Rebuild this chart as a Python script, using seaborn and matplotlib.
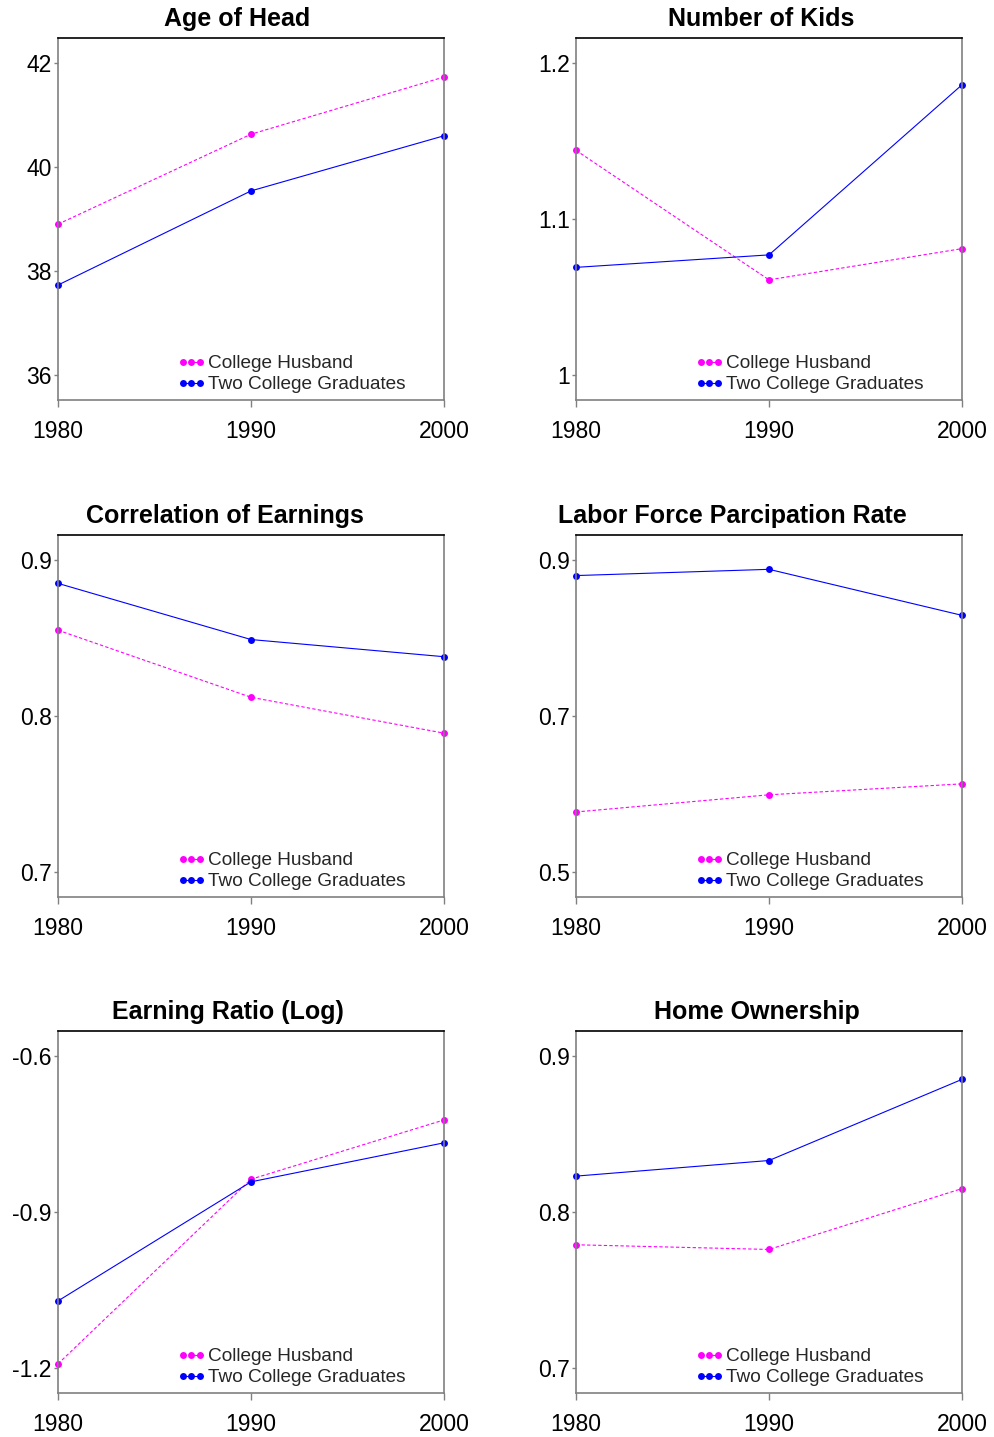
import matplotlib
matplotlib.use("Agg")
import matplotlib.pyplot as plt
import seaborn as sns
import pandas as pd
from matplotlib.ticker import FixedLocator, FixedFormatter

sns.set_theme(style="white")
plt.rcParams["font.family"] = ["Liberation Sans", "DejaVu Sans"]

years = [1980, 1990, 2000]
series_names = ["College Husband", "Two College Graduates"]

age_college_husband = [38.9, 40.63, 41.73]
age_two_grads = [37.73, 39.54, 40.6]
kids_college_husband = [1.144, 1.061, 1.081]
kids_two_grads = [1.069, 1.077, 1.186]
corr_college_husband = [0.855, 0.812, 0.789]
corr_two_grads = [0.885, 0.849, 0.838]
lfp_college_husband = [0.577, 0.599, 0.613]
lfp_two_grads = [0.880, 0.888, 0.829]
earn_college_husband = [-1.192, -0.837, -0.723]
earn_two_grads = [-1.071, -0.842, -0.767]
home_college_husband = [0.779, 0.776, 0.815]
home_two_grads = [0.823, 0.833, 0.885]

titles = ["Age of Head", "Number of Kids", "Correlation of Earnings",
          "Labor Force Parcipation Rate", "Earning Ratio (Log)", "Home Ownership"]
yticks = [[36, 38, 40, 42], [1.0, 1.1, 1.2], [0.7, 0.8, 0.9],
          [0.5, 0.7, 0.9], [-1.2, -0.9, -0.6], [0.7, 0.8, 0.9]]
ylims = [(35.52, 42.48), (0.984, 1.216), (0.684, 0.916),
         (0.468, 0.932), (-1.248, -0.552), (0.684, 0.916)]
panel_values = [
    (age_college_husband, age_two_grads),
    (kids_college_husband, kids_two_grads),
    (corr_college_husband, corr_two_grads),
    (lfp_college_husband, lfp_two_grads),
    (earn_college_husband, earn_two_grads),
    (home_college_husband, home_two_grads),
]

W, H = 995, 1437
fig = plt.figure(figsize=(W / 100, H / 100), dpi=100)
fig.patch.set_facecolor("white")

col_left = [58, 576]
row_top = [38, 535, 1031]
ax_w, ax_h = 386, 362
title_cx = [237, 761, 225, 732, 228, 757]

palette = {"College Husband": "#FF00FF", "Two College Graduates": "#0000FF"}
dashes = {"College Husband": (3, 2), "Two College Graduates": ""}
markers = {"College Husband": "o", "Two College Graduates": "o"}

for i, (ch, tg) in enumerate(panel_values):
    r, c = divmod(i, 2)
    left = col_left[c]
    top = row_top[r]
    ax = fig.add_axes([left / W, 1 - (top + ax_h) / H, ax_w / W, ax_h / H])
    df = pd.DataFrame({
        "year": years * 2,
        "value": list(ch) + list(tg),
        "group": [series_names[0]] * 3 + [series_names[1]] * 3,
    })
    sns.lineplot(data=df, x="year", y="value", hue="group", style="group",
                 palette=palette, dashes=dashes, markers=markers,
                 hue_order=series_names, style_order=series_names,
                 linewidth=0.8, markersize=5, markeredgewidth=0,
                 ax=ax)
    for ln in ax.lines:
        ln.set_clip_on(False)
    ax.set_xlim(1980, 2000)
    ax.set_ylim(*ylims[i])
    ax.set_xlabel("")
    ax.set_ylabel("")
    ax.xaxis.set_major_locator(FixedLocator(years))
    ax.xaxis.set_major_formatter(FixedFormatter([str(y) for y in years]))
    ax.yaxis.set_major_locator(FixedLocator(yticks[i]))
    ax.yaxis.set_major_formatter(FixedFormatter(["{:g}".format(v) for v in yticks[i]]))
    ax.tick_params(axis="x", direction="out", length=5, width=1, color="#808080",
                   labelsize=16.5, pad=9.5, labelcolor="black", bottom=True)
    ax.tick_params(axis="y", direction="out", length=3, width=1, color="#808080",
                   labelsize=16.5, pad=1.5, labelcolor="black", left=True)
    for side in ["left", "bottom", "right"]:
        ax.spines[side].set_color("#808080")
        ax.spines[side].set_linewidth(1.2)
    ax.spines["top"].set_color("black")
    ax.spines["top"].set_linewidth(1.2)
    ax.grid(False)

    handles, labels = ax.get_legend_handles_labels()
    ax.legend(handles, labels, loc="lower left", bbox_to_anchor=(0.31, 0.018),
              frameon=False, numpoints=3, fontsize=13.7, handlelength=1.45,
              handletextpad=0.15, labelspacing=0.2, borderpad=0, borderaxespad=0)

    fig.text(title_cx[i] / W, 1 - (top - 12) / H, titles[i], ha="center", va="baseline",
             fontsize=18, fontweight="bold", color="black")

fig.savefig("out.png", dpi=100, facecolor="white")
